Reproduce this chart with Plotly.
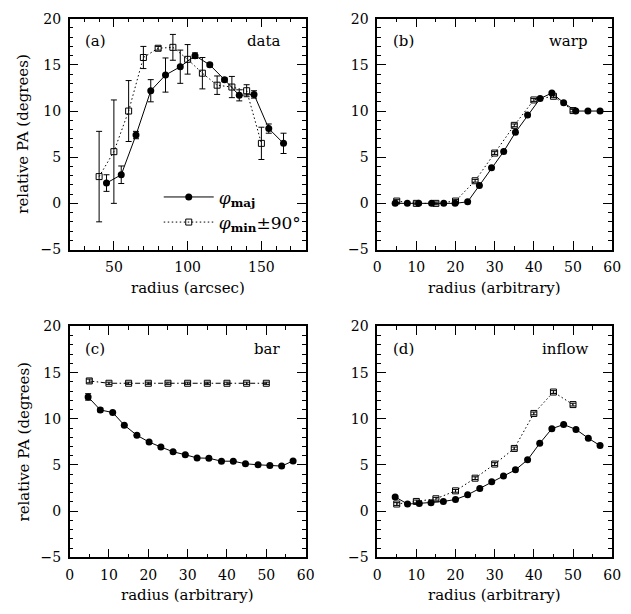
import plotly.graph_objects as go

# ---------------- data ----------------
# (a) observed data
a_maj_r = [45, 55, 65, 75, 85, 95, 105, 115, 125, 135, 145, 155, 165]
a_maj_pa = [2.2, 3.1, 7.4, 12.2, 13.9, 14.8, 16.0, 15.0, 13.4, 11.7, 11.8, 8.1, 6.5]
a_maj_err = [0.9, 0.95, 0.4, 1.2, 1.85, 1.8, 0.3, 0.2, 0.2, 0.6, 0.4, 0.5, 1.1]
a_min_r = [40, 50, 60, 70, 80, 90, 100, 110, 120, 130, 140, 150]
a_min_pa = [2.9, 5.6, 10.0, 15.8, 16.8, 16.9, 15.6, 14.1, 12.8, 12.6, 12.2, 6.5]
a_min_err = [4.9, 5.6, 3.3, 1.2, 0.2, 1.4, 1.6, 1.7, 1.0, 1.15, 0.65, 1.75]

# (b) warp model
b_maj_r = [4.6, 7.7, 10.6, 13.9, 17.0, 19.9, 23.1, 26.1, 29.2, 32.3, 35.3, 38.4, 41.6, 44.6, 47.6, 50.7, 53.8, 56.9]
b_maj_pa = [0.0, 0.0, 0.0, 0.0, 0.0, 0.0, 0.17, 1.93, 3.86, 5.62, 7.69, 9.56, 11.35, 11.95, 10.9, 10.0, 10.0, 10.0]
b_min_r = [5, 10, 15, 20, 25, 30, 35, 40, 45, 50]
b_min_pa = [0.25, 0.0, 0.0, 0.25, 2.45, 5.45, 8.45, 11.2, 11.6, 10.05]

# (c) bar model
c_maj_r = [4.7, 7.8, 10.95, 13.9, 17.1, 20.2, 23.2, 26.3, 29.4, 32.4, 35.4, 38.6, 41.6, 44.7, 47.9, 50.9, 53.9, 56.8]
c_maj_pa = [12.37, 10.96, 10.68, 9.31, 8.22, 7.48, 6.95, 6.43, 6.11, 5.76, 5.73, 5.41, 5.41, 5.13, 5.02, 4.95, 4.88, 5.44]
c_maj_err = [0.35, 0.2] + [0.05] * 16
c_min_r = [5, 10, 15, 20, 25, 30, 35, 40, 45, 50]
c_min_pa = [14.1, 13.85, 13.85, 13.85, 13.85, 13.85, 13.85, 13.85, 13.85, 13.85]

# (d) inflow model
d_maj_r = [4.6, 7.75, 10.75, 13.75, 16.9, 20.0, 23.1, 26.2, 29.25, 32.25, 35.3, 38.4, 41.5, 44.6, 47.6, 50.75, 53.9, 56.9]
d_maj_pa = [1.54, 0.77, 0.84, 0.91, 1.05, 1.26, 1.77, 2.46, 3.17, 3.8, 4.47, 5.56, 7.34, 8.93, 9.38, 8.85, 7.9, 7.1]
d_min_r = [5, 10, 15, 20, 25, 30, 35, 40, 45, 50]
d_min_pa = [0.77, 1.05, 1.34, 2.2, 3.57, 5.1, 6.79, 10.58, 12.9, 11.54]

panel_tags = ["(a)", "(b)", "(c)", "(d)"]
panel_names = ["data", "warp", "bar", "inflow"]
y_title = "relative PA (degrees)"
x_titles = ["radius (arcsec)", "radius (arbitrary)", "radius (arbitrary)", "radius (arbitrary)"]

# ---------------- figure ----------------
W, H = 631, 614
FONT = "DejaVu Serif"
DOT = "1.5px,2.5px"
DASHDOT = "5px,2.5px,1.5px,2.5px"
fig = go.Figure()

def px_x(p):
    return p / W

def px_y(p):
    return 1 - p / H

# panel geometry in pixels (left, right, top, bottom)
boxes = [(67, 308, 11, 248), (381, 621, 11, 248), (67, 308, 327, 564), (381, 621, 327, 564)]

def add_panel(i, maj_r, maj_pa, min_r, min_pa, maj_err=None, min_err=None, min_dash=DOT, legend=False):
    xa = "x" if i == 0 else f"x{i+1}"
    ya = "y" if i == 0 else f"y{i+1}"
    err_style = dict(type="data", color="black", thickness=1, width=3)
    fig.add_trace(go.Scatter(
        x=min_r, y=min_pa, mode="lines+markers", xaxis=xa, yaxis=ya,
        line=dict(color="black", width=1, dash=min_dash),
        marker=dict(symbol="square-open", size=6, color="black", line=dict(width=1)),
        error_y=dict(array=min_err, **err_style) if min_err is not None else None,
        name="<i>φ</i><sub><b>min</b></sub>±90°", showlegend=legend, legendrank=2,
    ))
    fig.add_trace(go.Scatter(
        x=maj_r, y=maj_pa, mode="lines+markers", xaxis=xa, yaxis=ya,
        line=dict(color="black", width=1),
        marker=dict(symbol="circle", size=7, color="black"),
        error_y=dict(array=maj_err, **err_style) if maj_err is not None else None,
        name="<i>φ</i><sub><b>maj</b></sub>", showlegend=legend, legendrank=1,
    ))

add_panel(0, a_maj_r, a_maj_pa, a_min_r, a_min_pa, a_maj_err, a_min_err, legend=True)
add_panel(1, b_maj_r, b_maj_pa, b_min_r, b_min_pa, None, [0.15] * len(b_min_r))
add_panel(2, c_maj_r, c_maj_pa, c_min_r, c_min_pa, c_maj_err, [0.2] + [0.12] * 9, min_dash=DASHDOT)
add_panel(3, d_maj_r, d_maj_pa, d_min_r, d_min_pa, None, [0.15] * len(d_min_r))

axis_common = dict(
    showline=True, linecolor="black", linewidth=1.5, mirror="ticks",
    ticks="inside", ticklen=9, tickwidth=1, tickcolor="black",
    showgrid=False, zeroline=False,
    tickfont=dict(family=FONT, size=14, color="black"),
)

layout = {}
for i, (l, r, t, b) in enumerate(boxes):
    xk = "xaxis" if i == 0 else f"xaxis{i+1}"
    yk = "yaxis" if i == 0 else f"yaxis{i+1}"
    xa = "x" if i == 0 else f"x{i+1}"
    ya = "y" if i == 0 else f"y{i+1}"
    if i == 0:
        xr, xd, xm = [20, 180], 50, 10
    else:
        xr, xd, xm = [0, 60], 10, 5
    layout[xk] = dict(axis_common, domain=[px_x(l), px_x(r)], range=xr, dtick=xd, tick0=0,
                      anchor=ya, ticklabelstandoff=4,
                      minor=dict(dtick=xm, ticks="inside", ticklen=4, tickcolor="black", showgrid=False))
    layout[yk] = dict(axis_common, domain=[px_y(b), px_y(t)], range=[-5, 20], dtick=5, tick0=0,
                      anchor=xa, ticklabelstandoff=4,
                      minor=dict(dtick=1, ticks="inside", ticklen=4, tickcolor="black", showgrid=False))

annotations = []
for i, (l, r, t, b) in enumerate(boxes):
    annotations.append(dict(text=panel_tags[i], x=px_x(l + 14), y=px_y(t + 23), xref="paper", yref="paper",
                            xanchor="left", yanchor="middle", showarrow=False,
                            font=dict(family=FONT, size=15, color="black")))
    annotations.append(dict(text=panel_names[i], x=px_x(r - 23), y=px_y(t + 23), xref="paper", yref="paper",
                            xanchor="right", yanchor="middle", showarrow=False,
                            font=dict(family=FONT, size=15, color="black")))
    annotations.append(dict(text=x_titles[i], x=px_x((l + r) / 2), y=px_y(b + 39), xref="paper", yref="paper",
                            xanchor="center", yanchor="middle", showarrow=False,
                            font=dict(family=FONT, size=15, color="black")))
    if i in (0, 2):
        annotations.append(dict(text=y_title, x=px_x(20), y=px_y((t + b) / 2), xref="paper", yref="paper",
                                xanchor="center", yanchor="middle", showarrow=False, textangle=-90,
                                font=dict(family=FONT, size=15, color="black")))

fig.update_layout(
    width=W, height=H, margin=dict(l=0, r=0, t=0, b=0),
    paper_bgcolor="white", plot_bgcolor="white",
    annotations=annotations,
    showlegend=True,
    legend=dict(x=px_x(158), y=px_y(176), xanchor="left", yanchor="top",
                bgcolor="rgba(0,0,0,0)", borderwidth=0, itemwidth=50, tracegroupgap=0,
                traceorder="normal",
                font=dict(family=FONT, size=17, color="black")),
    **layout,
)

fig.write_html("out.html")
